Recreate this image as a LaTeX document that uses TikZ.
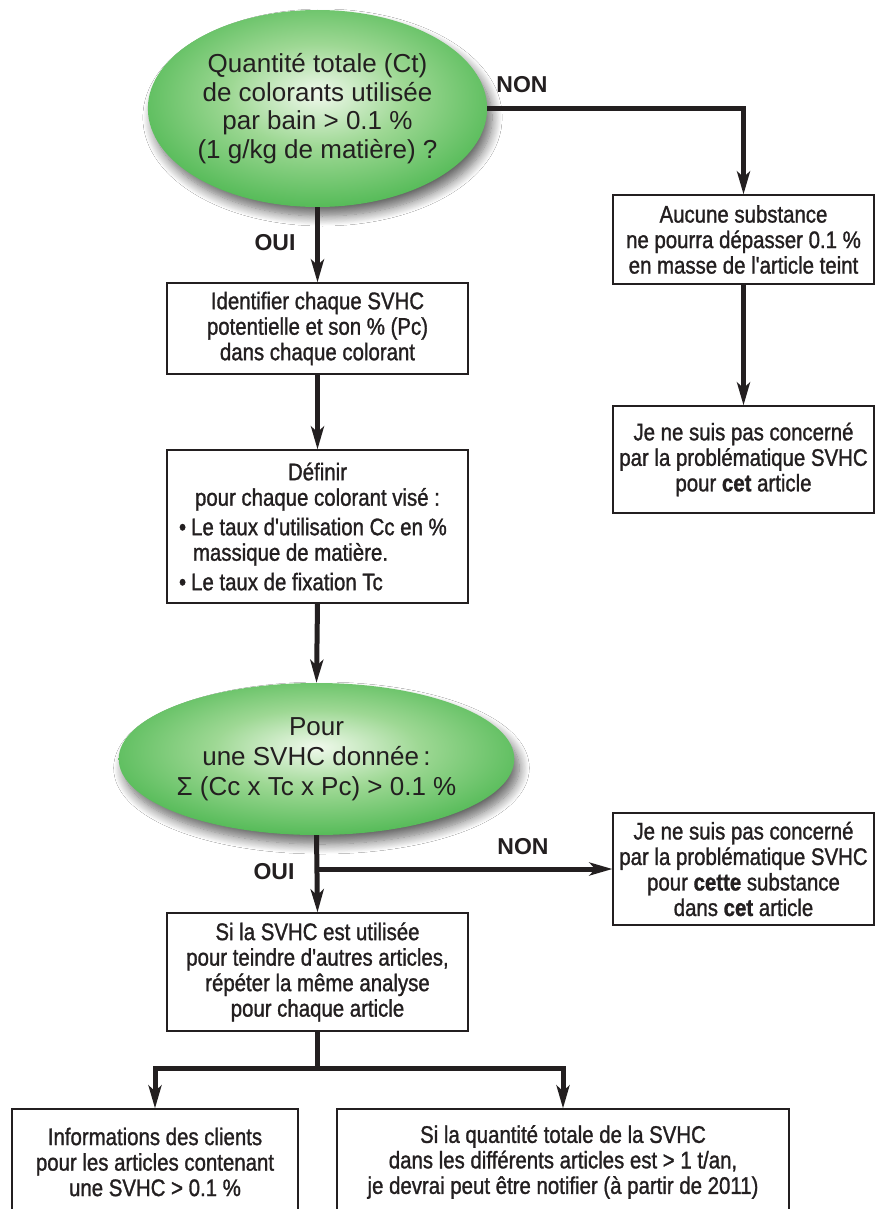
\documentclass[tikz,border=0pt]{standalone}
\usepackage{fontspec}
\setmainfont{Liberation Sans}
\newfontfamily\cond[FakeStretch=0.85,FakeBold=1.2]{Liberation Sans}
\usetikzlibrary{shapes.geometric,arrows.meta,shadows.blur}

\definecolor{ink}{RGB}{35,31,32}
\definecolor{gcenter}{RGB}{240,249,236}
\definecolor{gmid}{RGB}{158,216,148}
\definecolor{gouter}{RGB}{78,184,82}
\definecolor{gedge}{RGB}{56,164,64}

\pgfdeclareradialshading{greenball}{\pgfpoint{0bp}{4bp}}{%
  color(0bp)=(gcenter); color(13bp)=(gmid); color(29bp)=(gouter);
  color(46bp)=(gouter); color(50bp)=(gedge); color(70bp)=(gedge)}

\tikzset{
  box/.style={draw=ink, line width=1.2pt, fill=white, inner sep=0pt,
    align=center, text=ink,
    font=\cond\fontsize{24}{25.5}\selectfont},
  decision/.style={ellipse, shading=greenball, draw=none, inner sep=0pt,
    align=center, text=ink,
    blur shadow={shadow xshift=5pt, shadow yshift=-9pt,
      shadow blur radius=10pt, shadow blur steps=12, shadow opacity=60}},
  lbl/.style={text=ink, inner sep=0pt, font=\bfseries\fontsize{23}{25}\selectfont},
  link/.style={draw=ink, line width=5pt},
  arr/.style={link, -{Stealth[length=23pt,width=13pt,inset=6pt]}}
}

\begin{document}
\begin{tikzpicture}[x=1pt,y=-1pt]
\fill[white] (0,0) rectangle (875,1209);
\useasboundingbox (0,0) rectangle (875,1209);

% first test
\node[decision, minimum width=305pt, minimum height=197pt,
  font=\fontsize{26}{28.5}\selectfont] (e1) at (317.5,108.5)
  {Quantité totale (Ct)\\de colorants utilisée\\par bain > 0.1 \%\\(1 g/kg de matière) ?};

% branch NON of the first test
\node[box, minimum width=261pt, minimum height=89pt] (aucune) at (743.5,239.5)
  {Aucune substance\\ne pourra dépasser 0.1 \%\\en masse de l'article teint};
\node[box, minimum width=261pt, minimum height=107pt] (horsart) at (743.5,459.5)
  {Je ne suis pas concerné\\par la problématique SVHC\\pour \textbf{cet} article};

% branch OUI of the first test
\node[box, minimum width=301pt, minimum height=91pt] (ident) at (317.5,328.5)
  {Identifier chaque SVHC\\potentielle et son \% (Pc)\\dans chaque colorant};
\node[box, minimum width=301pt, minimum height=153pt] (definir) at (317.5,526.5)
  {Définir\\pour chaque colorant visé :\\[4pt]
   \makebox[277pt][l]{\textbullet\hspace{5pt}Le taux d'utilisation Cc en \%}\\
   \makebox[277pt][l]{\hspace{14pt}massique de matière.}\\[4pt]
   \makebox[277pt][l]{\textbullet\hspace{5pt}Le taux de fixation Tc}};

% second test
\node[decision, minimum width=303pt, minimum height=152pt,
  font=\fontsize{26}{30}\selectfont] (e2) at (316.5,759)
  {Pour\\une SVHC donnée\,:\\Σ (Cc x Tc x Pc) > 0.1 \%};

\node[box, minimum width=261pt, minimum height=112pt] (horssub) at (743.5,869)
  {Je ne suis pas concerné\\par la problématique SVHC\\pour \textbf{cette} substance\\dans \textbf{cet} article};
\node[box, minimum width=301pt, minimum height=118pt] (repeter) at (317.5,972)
  {Si la SVHC est utilisée\\pour teindre d'autres articles,\\répéter la même analyse\\pour chaque article};

\node[box, minimum width=286pt, minimum height=106pt] (clients) at (155,1162)
  {Informations des clients\\pour les articles contenant\\une SVHC > 0.1 \%};
\node[box, minimum width=452pt, minimum height=106pt] (notif) at (563,1162)
  {Si la quantité totale de la SVHC\\dans les différents articles est > 1 t/an,\\je devrai peut être notifier (à partir de 2011)};

% branch labels
\node[lbl] (non1) at (522,85) {NON};
\node[lbl] (oui1) at (275,243) {OUI};
\node[lbl] (non2) at (523,847) {NON};
\node[lbl] (oui2) at (274,872) {OUI};

% connectors
\draw[arr] (e1.east) -| (aucune.north);
\draw[arr] (aucune.south) -- (horsart.north);
\draw[arr] (e1.south) -- (ident.north);
\draw[arr] (ident.south) -- (definir.north);
\draw[arr] (definir.south) -- (e2.north);
\draw[arr] (e2.south) -- (repeter.north);
\coordinate (split) at (e2.south |- horssub.west);
\draw[arr] (split) -- (horssub.west);
\coordinate (fork) at (317.5,1068);
\draw[link] (repeter.south) -- (fork);
\draw[arr] (fork) -| (clients.north);
\draw[arr] (fork) -| (notif.north);
\end{tikzpicture}
\end{document}
